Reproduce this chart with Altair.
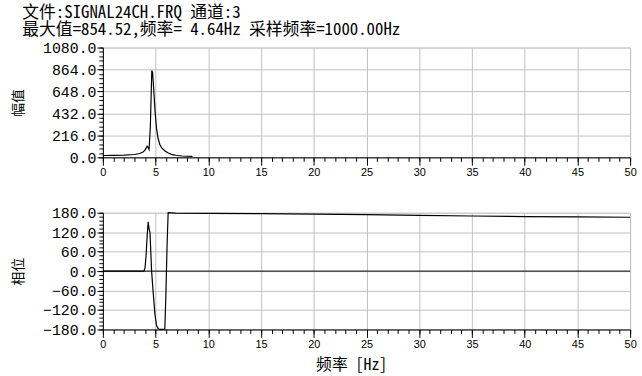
import altair as alt
import pandas as pd

# ---- data ----
amp_freq = [0, 1, 2, 3, 3.5, 3.8, 4.0, 4.2, 4.3, 4.38, 4.5, 4.64, 4.72, 4.8, 4.95, 5.1, 5.25, 5.4, 5.6, 5.9, 6.2, 6.5, 7.0, 7.5, 8.0, 8.5]
amp_vals = [18, 20, 22, 28, 38, 52, 72, 110, 95, 78, 300, 854.52, 830, 700, 450, 272, 180, 126, 90, 62, 42, 29, 18, 13, 11, 10]

ph_freq = [0, 3.9, 4.0, 4.1, 4.2, 4.3, 4.38, 4.47, 4.62, 4.78, 4.93, 5.09, 5.25, 5.4, 5.87, 5.96, 6.09, 6.19, 6.9, 10, 15, 20, 25, 30, 35, 40, 45, 50]
ph_vals = [0, 0, 10, 50, 110, 152, 130, 119, 0, -70, -131, -168, -178, -180, -180, -91, 82, 180, 179, 178, 177, 176, 174, 172, 170, 168, 167, 166]

x_major = [0, 5, 10, 15, 20, 25, 30, 35, 40, 45, 50]
x_minor = list(range(0, 51))
amp_major = [0, 216, 432, 648, 864, 1080]
amp_minor = [i * 43.2 for i in range(26)]
ph_major = [-180, -120, -60, 0, 60, 120, 180]
ph_minor = [-180 + i * 12 for i in range(31)]
zero_ref = [0]

title_lines = ["文件:SIGNAL24CH.FRQ 通道:3", "最大值=854.52,频率= 4.64Hz   采样频率=1000.00Hz"]

amp_df = pd.DataFrame({"f": amp_freq, "v": amp_vals})
ph_df = pd.DataFrame({"f": ph_freq, "v": ph_vals})
zero_df = pd.DataFrame({"z": zero_ref})

MONO = "Liberation Mono, Noto Sans CJK SC"
CJKMONO = "Noto Sans Mono CJK SC, Liberation Mono, Noto Sans CJK SC"
GRID = "#c0c0c0"


def panel(df, ymajor, yminor, ydom, ytitle, xtitle, h, with_zero):
    xs = alt.Scale(domain=[0, 50], nice=False, zero=False)
    ys = alt.Scale(domain=ydom, nice=False, zero=False)
    xaxis_kw = dict(values=x_major, orient="bottom", tickSize=8, grid=True, gridColor=GRID,
                    labelFont="Liberation Sans", labelFontSize=11, labelPadding=1,
                    labelColor="black", domainColor="black", tickColor="black",
                    labelFlush=False, labelOverlap=False)
    if xtitle:
        xaxis_kw.update(title=xtitle, titleFont=CJKMONO, titleFontSize=16,
                        titleFontWeight="normal", titlePadding=7, titleX=251)
    else:
        xaxis_kw.update(title=None)
    major = alt.Chart(df).mark_line(color="black", strokeWidth=1.2).encode(
        x=alt.X("f:Q", scale=xs, axis=alt.Axis(**xaxis_kw)),
        y=alt.Y("v:Q", scale=ys,
                axis=alt.Axis(values=ymajor, orient="left", tickSize=6, grid=True, gridColor=GRID,
                              format=".1f", labelFont=MONO, labelFontSize=15, labelPadding=1,
                              labelColor="black",
                              title=ytitle, titleFont="Noto Sans CJK SC", titleFontSize=14,
                              titleFontWeight="normal", titlePadding=17,
                              domainColor="black", tickColor="black", labelFlush=False,
                              labelOverlap=False)),
    )
    minor = alt.Chart(df).mark_line(opacity=0).encode(
        x=alt.X("f:Q", scale=xs,
                axis=alt.Axis(values=x_minor, orient="bottom", tickSize=4, grid=False, labels=False,
                              domain=False, title=None, tickColor="black")),
        y=alt.Y("v:Q", scale=ys,
                axis=alt.Axis(values=yminor, orient="left", tickSize=4, grid=False, labels=False,
                              domain=False, title=None, tickColor="black")),
    )
    layers = [major, minor]
    if with_zero:
        layers.insert(0, alt.Chart(zero_df).mark_rule(color="black", strokeWidth=1).encode(
            y=alt.Y("z:Q", scale=ys, axis=None)))
    return alt.layer(*layers).resolve_axis(x="independent", y="independent").properties(
        width=533, height=h)


top = panel(amp_df, amp_major, amp_minor, [0, 1080], "幅值", None, 111, False)
bottom = panel(ph_df, ph_major, ph_minor, [-180, 180], "相位", "频率 [Hz]", 118, True)

chart = alt.vconcat(top, bottom, spacing=27).properties(
    title=alt.TitleParams(text=title_lines, anchor="start", font=CJKMONO, fontSize=17,
                          fontWeight="normal", lineHeight=17, offset=1, frame="bounds", dx=11),
    padding={"left": 11, "top": 2, "right": 5, "bottom": 2},
).configure_view(stroke="#707070", strokeWidth=1.5).configure(background="white")

chart.save("out.html", embed_options={"renderer": "svg", "actions": False})
